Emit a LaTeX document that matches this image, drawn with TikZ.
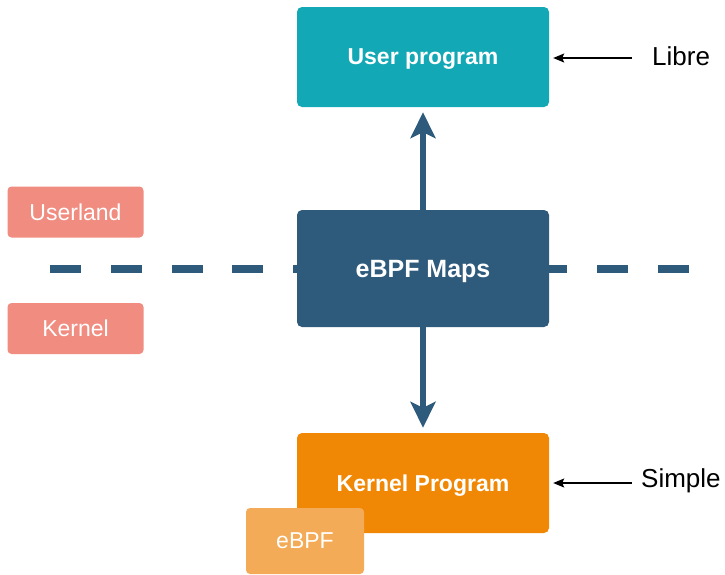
\documentclass[tikz,border=0pt]{standalone}
\usepackage{fontspec}
\setmainfont{Liberation Sans}
\usetikzlibrary{arrows.meta}
\definecolor{teal1}{HTML}{13A8B5}
\definecolor{navy1}{HTML}{2E5A7C}
\definecolor{orange1}{HTML}{F08805}
\definecolor{lorange}{HTML}{F4AB57}
\definecolor{salmon}{HTML}{F08C80}
\tikzset{
  box/.style={rounded corners=5pt, inner sep=0pt, text=white, text depth=0pt, font=\fontsize{23}{27}\selectfont\bfseries},
  sidebox/.style={rounded corners=4pt, inner sep=0pt, fill=salmon, text=white, minimum width=136pt, minimum height=51pt, font=\fontsize{23}{27}\selectfont},
  flow/.style={navy1, line width=6pt, -{Stealth[length=26pt,width=25pt,inset=6pt]}, shorten >=5pt},
  note/.style={black, line width=1.4pt, -{Stealth[length=11pt,width=9pt,inset=2pt]}, shorten >=4pt},
  notetext/.style={anchor=west, inner sep=0pt, font=\fontsize{26}{30}\selectfont}
}
\begin{document}
\begin{tikzpicture}[x=1pt,y=-1pt]
\useasboundingbox (0,0) rectangle (725,574);
% dashed boundary
\coordinate (dl) at (50,269);
\coordinate (dr) at (690,269);
\draw[navy1, line width=8pt, dash pattern=on 31pt off 29.8pt] (dl) -- (dr);
% main boxes
\node[box, fill=teal1, minimum width=252pt, minimum height=100pt] (user) at (423,57) {User program};
\node[box, fill=navy1, minimum width=252pt, minimum height=117pt, font=\fontsize{25}{29}\selectfont\bfseries] (maps) at (423,268.5) {eBPF Maps};
\node[box, fill=orange1, minimum width=252pt, minimum height=100pt] (kprog) at (423,483) {Kernel Program};
\node[box, fill=lorange, minimum width=118pt, minimum height=66pt, font=\fontsize{23}{27}\selectfont, rounded corners=4pt] (ebpf) at (305,541) {eBPF};
% side labels
\node[sidebox] (userland) at (75.5,212) {Userland};
\node[sidebox] (kernel) at (75.5,328.5) {Kernel};
% flows
\draw[flow] (maps.north) -- (user.south);
\draw[flow] ([yshift=5pt]maps.south) -- (kprog.north);
% notes
\coordinate (ls) at (632,58);
\coordinate (ss) at (632,483);
\draw[note] (ls) -- (ls -| user.east);
\draw[note] (ss) -- (ss -| kprog.east);
\node[notetext] (libre) at (652,56) {Libre};
\node[notetext] (simple) at (641,481) {Simple};
\end{tikzpicture}
\end{document}
